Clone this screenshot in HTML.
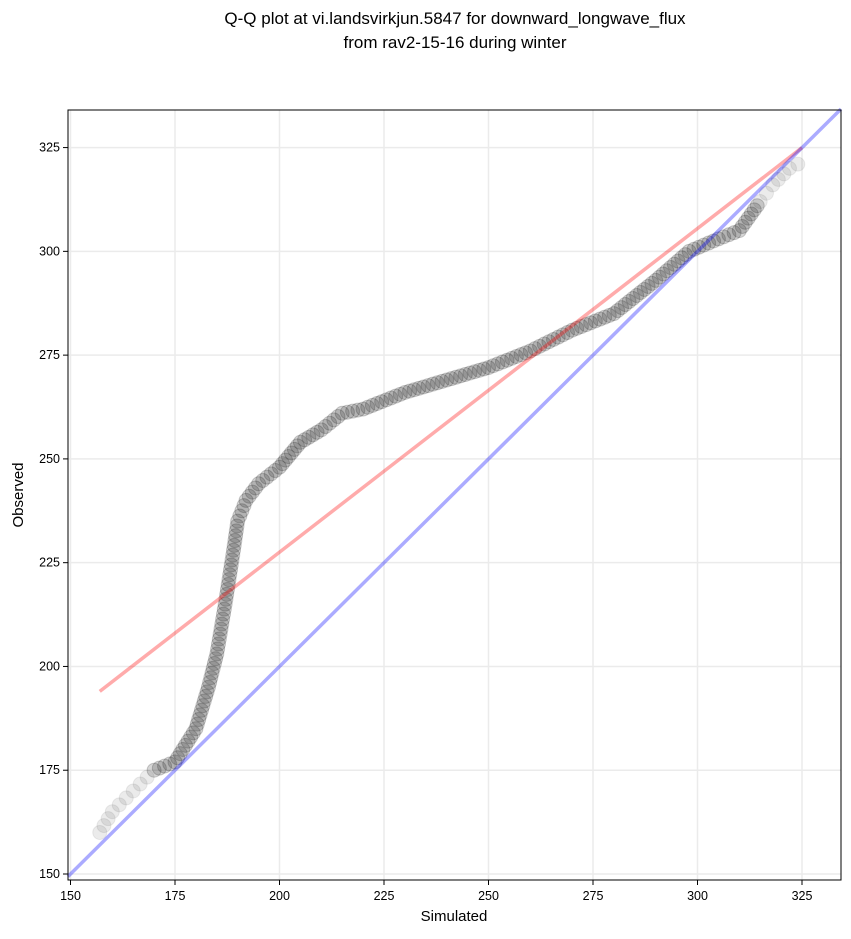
<!DOCTYPE html>
<html><head><meta charset="utf-8"><style>
body{margin:0;background:#fff}
text{font-family:"Liberation Sans","DejaVu Sans",sans-serif}
</style></head><body>
<svg id="s" width="851" height="934" xmlns="http://www.w3.org/2000/svg">
<rect width="851" height="934" fill="#fff"/>
<text x="455" y="24" font-size="17" text-anchor="middle">Q-Q plot at vi.landsvirkjun.5847 for downward_longwave_flux</text>
<text x="455" y="48" font-size="17" text-anchor="middle">from rav2-15-16 during winter</text>
<g id="grid" stroke="#ebebeb" stroke-width="1.5"></g>
<g id="pts"></g>
<g id="lines"></g>
<rect x="68" y="110" width="773" height="770" fill="none" stroke="#000" stroke-width="1"/>
<g id="ticks" font-size="12.5"></g>
<text x="454" y="921" font-size="15" text-anchor="middle">Simulated</text>
<text x="23" y="495" font-size="15" text-anchor="middle" transform="rotate(-90 23 495)">Observed</text>
</svg>
<script>
const NS="http://www.w3.org/2000/svg";
const X=x=>70.5+(x-150)*4.18, Y=y=>874-(y-150)*4.151;
function el(t,a,p){const e=document.createElementNS(NS,t);for(const k in a)e.setAttribute(k,a[k]);document.getElementById(p).appendChild(e);return e;}
for(let v=150;v<=325;v+=25){
 el('line',{x1:X(v),x2:X(v),y1:110,y2:880},'grid');
 el('line',{y1:Y(v),y2:Y(v),x1:68,x2:841},'grid');
 el('line',{x1:X(v),x2:X(v),y1:880,y2:885,stroke:'#000'},'ticks');
 el('line',{y1:Y(v),y2:Y(v),x1:63,x2:68,stroke:'#000'},'ticks');
 el('text',{x:X(v),y:900,'text-anchor':'middle'},'ticks').textContent=v;
 el('text',{x:60,y:Y(v)+4,'text-anchor':'end'},'ticks').textContent=v;
}
const k=[[157,160],[160,165],[165,170],[170,175],[175,177],[180,185],[183,195],[185,203],[187,215],[189,228],[190,235],[192,240],[195,244],[200,248],[205,254],[210,257],[215,261],[220,262],[230,266],[240,269],[250,272],[260,276],[270,281],[280,285],[290,293],[298,300],[305,303],[310,305],[315,312],[318,316],[322,320],[326,322]];
const n=k.length;
for(let i=0;i<n-1;i++){
 const [a,b]=k[i],[c,d]=k[i+1];
 const edge=(i<3||i>n-5);
 const len=Math.hypot((c-a)*4.18,(d-b)*4.15);
 const m=Math.max(1,Math.round(len/(edge?9:5)));
 for(let j=0;j<m;j++){
  const t=j/m, x=a+(c-a)*t, y=b+(d-b)*t;
  el('circle',{cx:X(x),cy:Y(y),r:7,fill:'rgba(0,0,0,'+(edge?0.08:0.16)+')',stroke:'rgba(0,0,0,'+(edge?0.07:0.18)+')','stroke-width':1},'pts');
 }
}
el('line',{x1:X(157),y1:Y(194),x2:X(325),y2:Y(325),stroke:'rgba(255,0,0,0.33)','stroke-width':3.5},'lines');
el('line',{x1:68,y1:Y(149.4),x2:841,y2:Y(334.3),stroke:'rgba(0,0,255,0.33)','stroke-width':3.5},'lines');
</script>
</body></html>
